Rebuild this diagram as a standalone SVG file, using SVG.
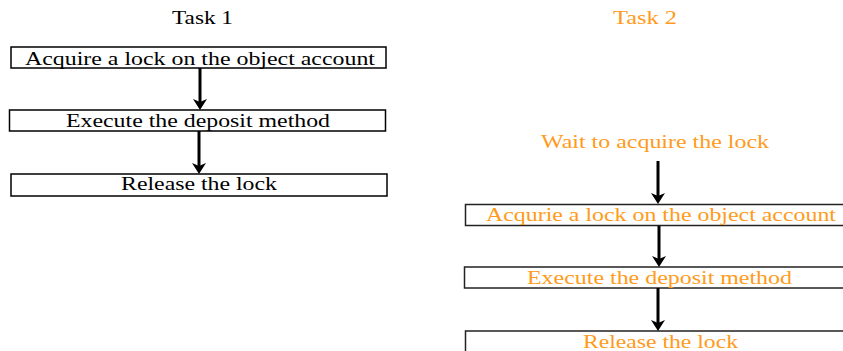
<svg xmlns="http://www.w3.org/2000/svg" width="843" height="351" viewBox="0 0 843 351">
  <defs>
    <style>
      .box { fill: #ffffff; stroke: #000000; stroke-width: 1.5; }
      .box2 { fill: #ffffff; stroke: #222222; stroke-width: 1.5; }
      .lbl { font-family: "Liberation Serif", "Times New Roman", serif; font-size: 18px; fill: #000000; }
      .org { fill: #FF9B1A; }
      .edge { stroke: #000000; stroke-width: 3; fill: none; }
    </style>
    <!-- arrowhead drawn along +x; tip sits 4 units past the line end -->
    <marker id="head" viewBox="0 0 11 14" refX="7" refY="7" markerWidth="11" markerHeight="14" markerUnits="userSpaceOnUse" orient="auto">
      <path d="M0,0 L11,7 L0,14 L3,7 Z" fill="#000000"/>
    </marker>
  </defs>
  <rect width="843" height="351" fill="#ffffff"/>

  <!-- Task 1 column -->
  <g id="task1-title">
    <text class="lbl" x="172" y="24" textLength="61" lengthAdjust="spacingAndGlyphs">Task 1</text>
  </g>
  <g id="t1-acquire">
    <rect class="box" x="11" y="47" width="375" height="21"/>
    <text class="lbl" x="25" y="65" textLength="350" lengthAdjust="spacingAndGlyphs">Acquire a lock on the object account</text>
  </g>
  <g id="t1-execute">
    <rect class="box" x="9.5" y="110" width="376" height="21"/>
    <text class="lbl" x="66" y="127" textLength="264" lengthAdjust="spacingAndGlyphs">Execute the deposit method</text>
  </g>
  <g id="t1-release">
    <rect class="box" x="11" y="174" width="376" height="22"/>
    <text class="lbl" x="121" y="190" textLength="156" lengthAdjust="spacingAndGlyphs">Release the lock</text>
  </g>

  <!-- Task 2 column -->
  <g id="task2-title">
    <text class="lbl org" x="613" y="24" textLength="64" lengthAdjust="spacingAndGlyphs">Task 2</text>
  </g>
  <g id="t2-wait">
    <text class="lbl org" x="541" y="148" textLength="228" lengthAdjust="spacingAndGlyphs">Wait to acquire the lock</text>
  </g>
  <g id="t2-acquire">
    <rect class="box2" x="465.5" y="204.5" width="390" height="21"/>
    <text class="lbl org" x="486" y="221" textLength="350" lengthAdjust="spacingAndGlyphs">Acqurie a lock on the object account</text>
  </g>
  <g id="t2-execute">
    <rect class="box2" x="464.5" y="267" width="390" height="21"/>
    <text class="lbl org" x="527" y="284" textLength="265" lengthAdjust="spacingAndGlyphs">Execute the deposit method</text>
  </g>
  <g id="t2-release">
    <rect class="box2" x="465.5" y="331" width="390" height="30"/>
    <text class="lbl org" x="583" y="348" textLength="155" lengthAdjust="spacingAndGlyphs">Release the lock</text>
  </g>

  <!-- connectors -->
  <g id="connectors">
    <line class="edge" x1="200" y1="68" x2="200" y2="106" marker-end="url(#head)"/>
    <line class="edge" x1="199" y1="131" x2="199" y2="170" marker-end="url(#head)"/>
    <line class="edge" x1="658" y1="161" x2="658" y2="200" marker-end="url(#head)"/>
    <line class="edge" x1="659" y1="226" x2="659" y2="263" marker-end="url(#head)"/>
    <line class="edge" x1="658" y1="288" x2="658" y2="327" marker-end="url(#head)"/>
  </g>
</svg>
